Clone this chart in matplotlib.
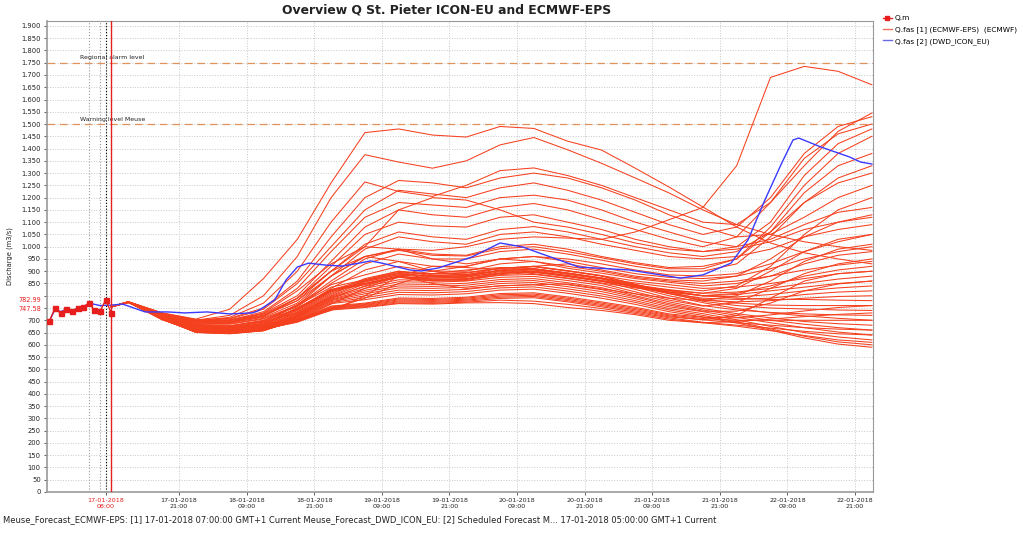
import matplotlib
matplotlib.use('Agg')
import matplotlib.pyplot as plt
from matplotlib.lines import Line2D
from matplotlib.ticker import FixedLocator, FuncFormatter
from datetime import datetime, timedelta

plt.rcParams['font.family'] = ['DejaVu Sans']

base = datetime(2018, 1, 17, 0, 0)


def T(h):
    return base + timedelta(hours=h)


# ---------------- data ----------------
obs_hours = list(range(-2, 10))
obs_values = [697, 750, 728, 748, 736, 750, 754, 770, 742, 738, 783, 728]

icon_hours = [-2, -1, 0, 1, 2, 3, 4, 5, 7, 9, 11, 15, 19, 22, 26, 30, 34, 35, 38,
              40, 42, 44, 47, 50, 53, 55, 57, 62, 64, 67, 73, 78, 82, 85, 92,
              101, 110, 114, 119, 122, 125, 128, 130, 131, 135, 140, 142, 144]
icon_values = [697, 745, 735, 745, 740, 748, 752, 770, 760, 762, 766, 734, 734, 730, 734, 726, 730, 738, 783,
               864, 917, 933, 925, 921, 933, 942, 933, 905, 901, 913, 958, 1015, 999, 974, 917,
               905, 872, 885, 933, 1027, 1190, 1341, 1435, 1443, 1406, 1366, 1345, 1337]

ens_hours = [9, 12, 18, 24, 30, 36, 42, 48, 54, 60, 66, 72, 78, 84, 90, 96, 102, 108, 114, 120, 126, 132, 138, 144]
ecmwf_members = [
    [755, 776, 730, 705, 745, 870, 1030, 1260, 1465, 1480, 1455, 1447, 1490, 1482, 1430, 1394, 1320, 1243, 1162, 1080, 1015, 975, 950, 930],
    [755, 775, 728, 700, 720, 800, 960, 1200, 1375, 1345, 1320, 1350, 1415, 1445, 1395, 1340, 1280, 1219, 1150, 1090, 1050, 1020, 1000, 985],
    [755, 774, 726, 698, 712, 770, 900, 1100, 1264, 1225, 1205, 1250, 1310, 1321, 1290, 1250, 1200, 1150, 1100, 1090, 1180, 1330, 1470, 1545],
    [755, 775, 730, 702, 708, 750, 860, 1040, 1200, 1270, 1260, 1240, 1280, 1300, 1280, 1240, 1190, 1130, 1080, 1040, 1050, 1120, 1200, 1250],
    [755, 776, 727, 700, 705, 745, 850, 1000, 1150, 1230, 1215, 1200, 1240, 1260, 1230, 1190, 1140, 1090, 1050, 1080, 1200, 1380, 1490, 1530],
    [755, 773, 724, 695, 700, 735, 830, 980, 1120, 1180, 1170, 1160, 1200, 1210, 1190, 1150, 1100, 1060, 1020, 1000, 1030, 1090, 1140, 1160],
    [755, 775, 725, 698, 702, 728, 800, 940, 1080, 1150, 1130, 1120, 1160, 1176, 1150, 1110, 1070, 1030, 1000, 1040, 1180, 1360, 1460, 1500],
    [755, 774, 722, 694, 698, 720, 790, 920, 1050, 1100, 1085, 1080, 1120, 1130, 1100, 1070, 1030, 1000, 980, 1000, 1100, 1290, 1420, 1480],
    [755, 775, 726, 690, 692, 718, 780, 900, 1010, 1060, 1040, 1030, 1070, 1082, 1060, 1030, 1000, 975, 960, 980, 1060, 1180, 1280, 1330],
    [755, 773, 720, 688, 690, 712, 770, 880, 990, 1040, 1020, 1010, 1050, 1060, 1040, 1010, 985, 960, 950, 960, 990, 1040, 1070, 1090],
    [755, 775, 728, 700, 690, 715, 790, 900, 960, 990, 985, 1000, 1030, 1040, 1035, 1030, 1060, 1110, 1160, 1330, 1690, 1735, 1715, 1660],
    [755, 774, 719, 686, 686, 708, 760, 860, 950, 990, 970, 965, 1000, 1010, 990, 960, 935, 915, 920, 950, 1080, 1250, 1380, 1450],
    [755, 775, 722, 684, 684, 705, 755, 850, 930, 970, 950, 950, 980, 990, 970, 945, 920, 900, 900, 930, 1040, 1180, 1260, 1300],
    [755, 773, 718, 682, 690, 730, 820, 930, 1000, 990, 950, 930, 950, 960, 950, 930, 905, 885, 880, 890, 930, 980, 1020, 1050],
    [755, 774, 721, 680, 678, 700, 745, 830, 905, 940, 920, 920, 950, 960, 940, 915, 890, 875, 870, 880, 910, 950, 980, 1000],
    [755, 775, 717, 679, 676, 698, 760, 880, 960, 940, 900, 880, 905, 920, 930, 905, 880, 865, 860, 880, 950, 1040, 1100, 1130],
    [755, 773, 720, 678, 675, 696, 765, 845, 885, 920, 900, 900, 930, 940, 920, 900, 875, 860, 850, 860, 880, 905, 925, 940],
    [755, 774, 716, 676, 673, 694, 730, 790, 840, 880, 900, 920, 950, 940, 912, 892, 870, 855, 840, 850, 880, 930, 965, 980],
    [755, 775, 719, 675, 671, 692, 760, 835, 865, 900, 882, 885, 912, 920, 902, 882, 860, 845, 830, 835, 850, 870, 890, 900],
    [755, 773, 715, 673, 669, 685, 705, 745, 790, 850, 890, 905, 915, 910, 892, 872, 852, 835, 820, 840, 920, 1050, 1150, 1200],
    [755, 774, 718, 672, 668, 688, 750, 825, 850, 880, 865, 868, 892, 900, 882, 862, 842, 825, 810, 815, 830, 850, 868, 880],
    [755, 775, 714, 670, 666, 686, 748, 820, 845, 875, 860, 862, 886, 895, 878, 858, 838, 820, 800, 805, 820, 835, 850, 860],
    [755, 773, 717, 669, 665, 680, 700, 740, 800, 880, 920, 915, 905, 890, 872, 852, 832, 815, 800, 810, 840, 880, 905, 920],
    [755, 774, 713, 668, 663, 682, 745, 825, 862, 892, 877, 880, 902, 910, 892, 872, 845, 822, 800, 795, 805, 820, 832, 840],
    [755, 775, 716, 666, 662, 680, 742, 820, 856, 886, 872, 875, 898, 905, 887, 868, 840, 815, 800, 790, 785, 785, 782, 780],
    [755, 773, 712, 665, 660, 678, 740, 818, 850, 880, 868, 870, 892, 900, 882, 862, 835, 810, 790, 785, 790, 805, 815, 820],
    [755, 774, 715, 664, 659, 676, 700, 766, 830, 880, 850, 830, 840, 845, 848, 828, 808, 790, 780, 800, 860, 940, 990, 1010],
    [755, 775, 711, 662, 657, 674, 735, 815, 870, 900, 888, 892, 912, 920, 902, 882, 847, 815, 785, 770, 762, 760, 760, 760],
    [755, 773, 714, 661, 656, 672, 732, 810, 860, 890, 878, 882, 903, 910, 893, 873, 840, 808, 782, 775, 780, 790, 797, 800],
    [755, 774, 710, 660, 655, 670, 728, 805, 865, 895, 890, 895, 912, 918, 900, 880, 845, 810, 778, 760, 750, 746, 742, 740],
    [755, 775, 713, 659, 653, 668, 725, 800, 857, 885, 883, 887, 903, 907, 890, 870, 835, 800, 772, 748, 730, 718, 708, 700],
    [755, 773, 709, 658, 652, 666, 722, 797, 848, 875, 872, 878, 893, 897, 880, 860, 826, 790, 760, 742, 732, 726, 722, 720],
    [755, 774, 712, 657, 651, 665, 720, 794, 838, 865, 863, 868, 883, 887, 870, 850, 816, 782, 758, 772, 830, 890, 930, 950],
    [755, 775, 708, 656, 650, 664, 718, 790, 830, 857, 855, 860, 875, 879, 862, 842, 808, 775, 748, 727, 710, 695, 686, 680],
    [755, 773, 711, 655, 649, 662, 716, 786, 822, 848, 846, 851, 866, 870, 853, 833, 800, 768, 742, 720, 700, 684, 670, 660],
    [755, 774, 707, 654, 648, 661, 714, 783, 815, 840, 838, 843, 858, 862, 845, 825, 795, 762, 737, 737, 770, 820, 848, 860],
    [755, 775, 710, 653, 647, 660, 712, 780, 808, 832, 830, 835, 850, 854, 837, 817, 788, 755, 735, 712, 690, 670, 652, 640],
    [755, 773, 706, 652, 646, 659, 710, 776, 800, 823, 821, 826, 841, 845, 828, 808, 780, 748, 727, 702, 675, 650, 632, 620],
    [755, 774, 709, 651, 646, 658, 707, 772, 792, 814, 812, 817, 832, 836, 819, 799, 773, 742, 720, 694, 665, 635, 612, 600],
    [755, 775, 705, 650, 645, 657, 704, 768, 784, 805, 803, 808, 823, 827, 810, 790, 765, 735, 714, 689, 660, 628, 603, 590],
    [755, 773, 708, 651, 647, 658, 702, 758, 770, 791, 789, 794, 809, 812, 795, 775, 753, 726, 712, 710, 722, 738, 752, 760],
    [755, 774, 704, 652, 648, 659, 700, 755, 767, 787, 785, 790, 804, 807, 790, 770, 748, 722, 707, 700, 700, 700, 700, 700],
    [755, 775, 707, 653, 649, 660, 698, 752, 764, 783, 781, 786, 799, 802, 785, 765, 743, 718, 702, 690, 680, 670, 664, 660],
    [755, 773, 703, 654, 650, 661, 697, 750, 761, 779, 777, 782, 794, 797, 780, 760, 738, 714, 702, 720, 790, 860, 890, 900],
    [755, 774, 706, 655, 651, 662, 696, 748, 758, 775, 773, 778, 789, 792, 775, 755, 733, 710, 692, 680, 668, 655, 645, 640],
    [755, 775, 702, 656, 652, 663, 694, 745, 755, 771, 769, 774, 782, 778, 765, 748, 728, 705, 690, 676, 658, 638, 620, 610],
    [755, 773, 705, 657, 653, 664, 692, 742, 752, 768, 766, 771, 772, 768, 752, 740, 723, 700, 690, 695, 705, 715, 724, 730],
    [755, 774, 723, 692, 695, 720, 780, 880, 960, 985, 965, 962, 992, 1000, 980, 955, 930, 910, 910, 950, 1060, 1220, 1330, 1380],
    [755, 775, 729, 696, 700, 725, 790, 900, 1000, 1150, 1200, 1190, 1150, 1100, 1080, 1050, 1015, 990, 980, 990, 1020, 1070, 1100, 1120],
    [755, 773, 716, 671, 667, 687, 750, 822, 848, 878, 862, 866, 890, 900, 880, 860, 840, 822, 810, 830, 900, 980, 1030, 1050],
]

threshold_values = [1750, 1500]
threshold_labels = ['Regional alarm level', 'Warning level Meuse']

marker_values = [782.99, 747.58]
marker_labels = ['782.99', '747.58']

xtick_hours = [8] + [21 + 12 * k for k in range(11)]
footer = ('Meuse_Forecast_ECMWF-EPS: [1] 17-01-2018 07:00:00 GMT+1 Current '
          'Meuse_Forecast_DWD_ICON_EU: [2] Scheduled Forecast M... 17-01-2018 05:00:00 GMT+1 Current')
title = 'Overview Q St. Pieter ICON-EU and ECMWF-EPS'
legend_labels = ['Q.m', 'Q.fas [1] (ECMWF-EPS)  (ECMWF)', 'Q.fas [2] (DWD_ICON_EU)']

# ---------------- figure ----------------
W, H = 1023, 538
fig = plt.figure(figsize=(W / 100, H / 100), dpi=100)
ax = fig.add_axes([47 / W, 1 - 492 / H, (873 - 47) / W, (492 - 21) / H])

ens_color = '#f5401e'
blue = '#3a3aff'
obs_red = '#e61e1e'

for mem in ecmwf_members:
    ax.plot([T(h) for h in ens_hours], mem, color=ens_color, lw=0.75, zorder=3)

ax.plot([T(h) for h in icon_hours], icon_values, color=blue, lw=1.0, zorder=4)
ax.plot([T(h) for h in obs_hours], obs_values, color=obs_red, lw=1.0, marker='s',
        ms=3.6, zorder=5)

for v, lab in zip(threshold_values, threshold_labels):
    ax.axhline(v, color='#e0925a', lw=0.9, ls=(0, (6, 4)), zorder=2)
    ax.text(T(3.4), v + 10, lab, fontsize=4.5, color='#222222', va='bottom', ha='left', zorder=6)

ax.axvline(T(5), color='#999999', lw=0.8, ls=':', zorder=2)
ax.axvline(T(7), color='#999999', lw=0.8, ls=':', zorder=2)
ax.axvline(T(8), color='black', lw=0.8, ls=':', zorder=2)
ax.axvline(T(9), color='#e62020', lw=1.0, zorder=6)

ax.set_xlim(T(-2.43), T(144.2))
ax.set_ylim(0, 1920)

yt = list(range(0, 1901, 50))
ax.yaxis.set_major_locator(FixedLocator(yt))


def yfmt(v, pos):
    v = int(round(v))
    if v in (750, 800):
        return ''
    return f'{v:,}'.replace(',', '.')


ax.yaxis.set_major_formatter(FuncFormatter(yfmt))
ax.set_xticks([T(h) for h in xtick_hours])
ax.set_xticklabels([T(h).strftime('%d-%m-%Y\n%H:%M') for h in xtick_hours])

ax.tick_params(axis='both', length=2.5, width=0.6, colors='#444444',
               labelcolor='#222222', pad=2)
ax.tick_params(axis='x', labelsize=4.6)
ax.tick_params(axis='y', labelsize=4.9)
ax.get_xticklabels()[0].set_color(obs_red)

ax.grid(True, color='#c8c8c8', ls=':', lw=0.7)
ax.set_axisbelow(True)
for s in ax.spines.values():
    s.set_color('#999999')
    s.set_linewidth(0.8)
ax.spines['left'].set_linewidth(1.2)
ax.spines['bottom'].set_linewidth(1.2)

for v, lab in zip(marker_values, marker_labels):
    ax.text(-0.007, v, lab, transform=ax.get_yaxis_transform(), color=obs_red,
            fontsize=4.7, ha='right', va='center')

ax.set_ylabel('Discharge (m3/s)', fontsize=4.9, color='#222222')
ax.yaxis.set_label_coords((13 - 47) / (873 - 47), 0.5)

fig.text(447 / W, 1 - 10 / H, title, ha='center', va='center', fontsize=8.9,
         fontweight='bold', color='#222222')

handles = [Line2D([], [], color=obs_red, lw=1.0, marker='s', ms=3.0),
           Line2D([], [], color='#f07060', lw=1.0),
           Line2D([], [], color='#6a6ae8', lw=1.0)]
fig.legend(handles, legend_labels, loc='upper left', bbox_to_anchor=(883 / W, 1 - 15 / H),
           frameon=False, fontsize=5.3, handlelength=1.2, handletextpad=0.4,
           labelspacing=0.65, borderaxespad=0, borderpad=0)

fig.text(3 / W, 1 - 520 / H, footer, ha='left', va='center', fontsize=6.0, color='#222222')

fig.savefig('out.png', dpi=100)
